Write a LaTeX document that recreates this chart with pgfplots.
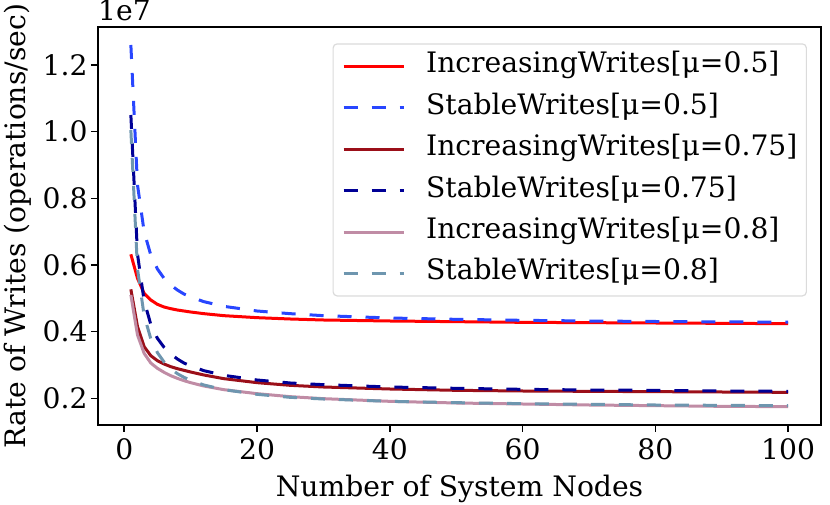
\documentclass[border=0pt]{standalone}
\usepackage{fontspec}
\setmainfont{DejaVu Serif}
\usepackage{pgfplots}
\pgfplotsset{compat=1.18}
\usepackage{pgfplotstable}
\newcommand\bigf{\rmfamily\fontsize{28.2pt}{33pt}\selectfont}
\definecolor{cRed}{RGB}{255,0,0}
\definecolor{cBlue}{RGB}{40,70,255}
\definecolor{cDark}{RGB}{155,15,25}
\definecolor{cNavy}{RGB}{0,0,150}
\definecolor{cPink}{RGB}{192,140,165}
\definecolor{cSteel}{RGB}{110,150,175}

\pgfplotstableread{
x y
1 0.632
2 0.560
3 0.515
4 0.495
5 0.482
6 0.474
7 0.469
8 0.465
9 0.462
10 0.459
12 0.454
15 0.448
20 0.442
25 0.438
30 0.435
40 0.432
50 0.430
60 0.428
70 0.427
80 0.426
90 0.425
100 0.424
}\incA
\pgfplotstableread{
x y
1 1.260
2 0.840
3 0.700
4 0.630
5 0.588
6 0.560
7 0.540
8 0.525
9 0.513
10 0.504
12 0.490
15 0.476
20 0.462
25 0.454
30 0.448
40 0.441
50 0.437
60 0.434
70 0.432
80 0.4305
90 0.4293
100 0.4284
}\stA
\pgfplotstableread{
x y
1 0.527
2 0.415
3 0.355
4 0.328
5 0.313
6 0.303
7 0.295
8 0.289
9 0.284
10 0.279
12 0.270
15 0.259
20 0.247
25 0.239
30 0.234
40 0.228
50 0.224
60 0.222
70 0.221
80 0.220
90 0.219
100 0.218
}\incB
\pgfplotstableread{
x y
1 1.050
2 0.632
3 0.492
4 0.422
5 0.380
6 0.353
7 0.333
8 0.318
9 0.306
10 0.297
12 0.283
15 0.269
20 0.255
25 0.246
30 0.241
40 0.234
50 0.230
60 0.227
70 0.225
80 0.224
90 0.222
100 0.221
}\stB
\pgfplotstableread{
x y
1 0.510
2 0.390
3 0.335
4 0.306
5 0.290
6 0.278
7 0.268
8 0.260
9 0.253
10 0.247
12 0.237
15 0.226
20 0.214
25 0.205
30 0.199
40 0.191
50 0.186
60 0.183
70 0.180
80 0.178
90 0.176
100 0.175
}\incC
\pgfplotstableread{
x y
1 1.005
2 0.588
3 0.448
4 0.379
5 0.337
6 0.309
7 0.289
8 0.274
9 0.263
10 0.254
12 0.240
15 0.226
20 0.212
25 0.203
30 0.198
40 0.191
50 0.187
60 0.184
70 0.182
80 0.180
90 0.179
100 0.178
}\stC

\begin{document}
\begin{tikzpicture}
\useasboundingbox (-98pt,-80pt) rectangle (732pt,425pt);
\begin{axis}[
  name=ax,
  scale only axis,
  width=723pt, height=398pt,
  xmin=-3.95, xmax=104.95,
  ymin=0.12, ymax=1.314,
  xtick={0,20,40,60,80,100},
  ytick={0.2,0.4,0.6,0.8,1.0,1.2},
  xticklabel={\pgfmathprintnumber[assume math mode=true]{\tick}},
  yticklabel={\pgfmathprintnumber[fixed,fixed zerofill,precision=1,assume math mode=true]{\tick}},
  tick label style={font=\bigf},
  xticklabel style={yshift=-3pt},
  label style={font=\bigf},
  xlabel style={yshift=-8pt},
  ylabel style={yshift=4pt},
  tick align=outside,
  xtick pos=bottom, ytick pos=left,
  major tick length=7pt,
  every tick/.style={black, line width=1.6pt},
  axis line style={line width=1.6pt},
  xlabel={Number of System Nodes},
  ylabel={Rate of Writes (operations/sec)},
  legend cell align=left,
  legend style={at={(0.9806,0.959)}, anchor=north east,
    draw=black!14, line width=1.2pt, rounded corners=4pt, fill=white,
    font=\bigf, inner xsep=9pt, inner ysep=9pt, row sep=14.4pt,
    nodes={inner sep=0pt, text height=20pt, text depth=7pt},
    /tikz/every odd column/.append style={column sep=21pt}},
  legend image code/.code={\draw[#1] (0pt,0pt) -- (60pt,0pt);},
  every axis plot/.append style={line width=3pt},
]
\addplot[cRed, no marks] table {\incA};
\addlegendentry{IncreasingWrites[μ=0.5]}
\addplot[cBlue, no marks, dash pattern=on 14pt off 14pt] table {\stA};
\addlegendentry{StableWrites[μ=0.5]}
\addplot[cDark, no marks] table {\incB};
\addlegendentry{IncreasingWrites[μ=0.75]}
\addplot[cNavy, no marks, dash pattern=on 14pt off 14pt] table {\stB};
\addlegendentry{StableWrites[μ=0.75]}
\addplot[cPink, no marks] table {\incC};
\addlegendentry{IncreasingWrites[μ=0.8]}
\addplot[cSteel, no marks, dash pattern=on 14pt off 14pt] table {\stC};
\addlegendentry{StableWrites[μ=0.8]}
\end{axis}
\node[font=\bigf, anchor=base west, inner sep=0pt] at ([yshift=6pt]ax.north west) {1e7};
\end{tikzpicture}
\end{document}
